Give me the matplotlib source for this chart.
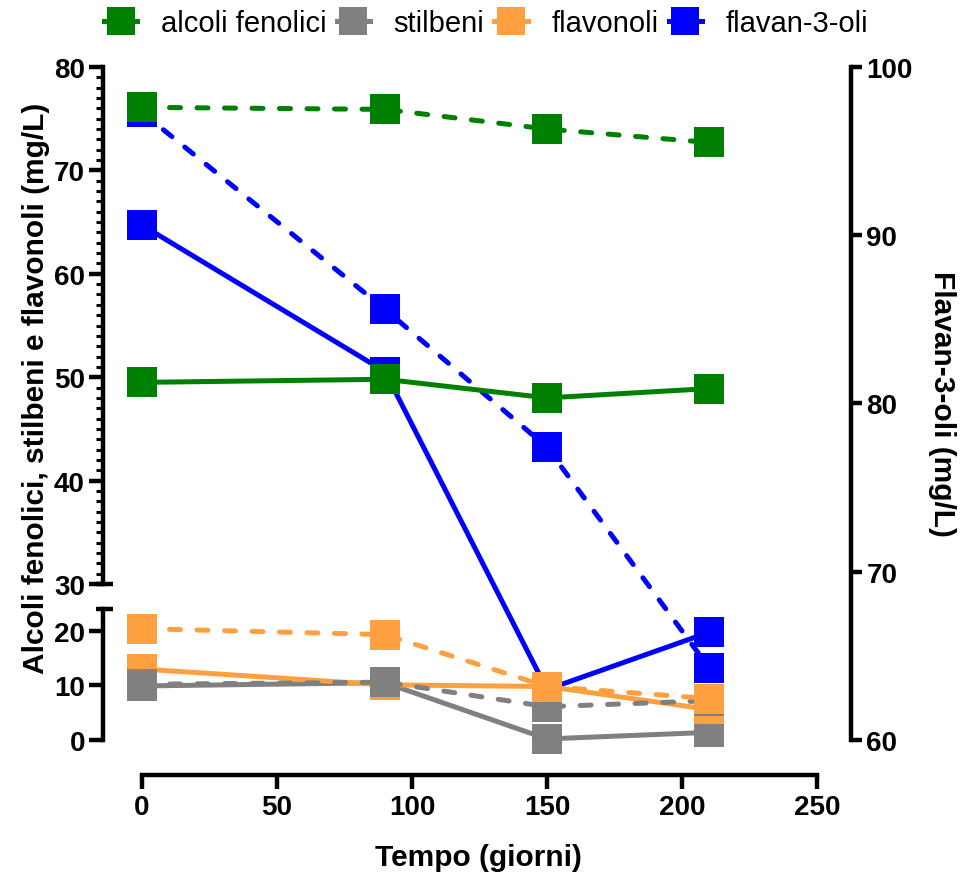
import matplotlib
matplotlib.use("Agg")
import matplotlib.pyplot as plt
from matplotlib.lines import Line2D
from matplotlib.ticker import MultipleLocator

plt.rcParams['font.family'] = ['Liberation Sans', 'DejaVu Sans']

# Dati (tempo in giorni)
giorni = [0, 90, 150, 210]

alcoli_sol = [49.5, 49.8, 48.0, 48.9]
alcoli_tr = [76.1, 75.9, 74.0, 72.7]
stilbeni_sol = [9.9, 10.5, 0.2, 1.4]
stilbeni_tr = [10.2, 10.6, 6.1, 7.2]
flavonoli_sol = [13.0, 10.1, 9.8, 5.6]
flavonoli_tr = [20.4, 19.3, 9.8, 7.6]
flavan_sol = [90.6, 81.9, 63.0, 66.4]
flavan_tr = [97.3, 85.6, 77.4, 64.3]

nomi = ['alcoli fenolici', 'stilbeni', 'flavonoli', 'flavan-3-oli']
colori = ['#008000', '#808080', '#FFA040', '#0000FF']

W, H = 964, 879
def fx(px):
    return px / W
def fy(py):
    return 1 - py / H

fig = plt.figure(figsize=(W / 100, H / 100), dpi=100)

x0, x1 = 103, 851
xlim = (-(142 - x0) / 2.7, (x1 - 142) / 2.7)

ax_r = fig.add_axes([fx(x0), fy(741), fx(x1) - fx(x0), fy(68) - fy(741)], zorder=0)
ax_top = fig.add_axes([fx(x0), fy(585), fx(x1) - fx(x0), fy(68) - fy(585)], zorder=1)
ax_bot = fig.add_axes([fx(x0), fy(741), fx(x1) - fx(x0), fy(610) - fy(741)], zorder=1)

lw = 3.6
ms = 21
tratt = (0, (2.2, 3.3))

def serie(ax, y, c, ls):
    ax.plot(giorni, y, color=c, lw=lw, ls=ls, marker='s', ms=ms, mec=c,
            mew=0, clip_on=False, solid_capstyle='butt', dash_capstyle='round')

# asse destro: flavan-3-oli
serie(ax_r, flavan_sol, colori[3], '-')
serie(ax_r, flavan_tr, colori[3], tratt)

# asse sinistro, segmento alto
serie(ax_top, alcoli_sol, colori[0], '-')
serie(ax_top, alcoli_tr, colori[0], tratt)

# asse sinistro, segmento basso
serie(ax_bot, stilbeni_sol, colori[1], '-')
serie(ax_bot, flavonoli_sol, colori[2], '-')
serie(ax_bot, stilbeni_tr, colori[1], tratt)
serie(ax_bot, flavonoli_tr, colori[2], tratt)

for ax in (ax_r, ax_top, ax_bot):
    ax.set_xlim(*xlim)
    ax.patch.set_alpha(0)
    for s in ax.spines.values():
        s.set_linewidth(3.2)

tick_font = dict(fontsize=20, fontweight='bold')

# asse destro
ax_r.set_ylim(60, 100)
for s in ('left', 'top', 'bottom'):
    ax_r.spines[s].set_visible(False)
ax_r.yaxis.tick_right()
ax_r.set_yticks([60, 70, 80, 90, 100])
ax_r.set_yticklabels([str(v) for v in [60, 70, 80, 90, 100]], **tick_font)
ax_r.tick_params(axis='y', length=8, width=3.2, pad=3)
ax_r.set_xticks([])

# segmento alto
ax_top.set_ylim(30, 80)
for s in ('right', 'top', 'bottom'):
    ax_top.spines[s].set_visible(False)
ax_top.set_xticks([])
ax_top.set_yticks([30, 40, 50, 60, 70, 80])
ax_top.set_yticklabels(['30', '40', '50', '60', '70', '80'], **tick_font)
ax_top.yaxis.set_minor_locator(MultipleLocator(1))
ax_top.tick_params(axis='y', which='major', length=10, width=3.2, pad=3)
ax_top.tick_params(axis='y', which='minor', length=5, width=2.2)

# segmento basso
ax_bot.set_ylim(0, 24)
for s in ('right', 'top'):
    ax_bot.spines[s].set_visible(False)
ax_bot.set_yticks([0, 10, 20])
ax_bot.set_yticklabels(['0', '10', '20'], **tick_font)
ax_bot.tick_params(axis='y', length=10, width=3.2, pad=3)
ax_bot.spines['bottom'].set_position(('outward', 25))
ax_bot.spines['bottom'].set_bounds(0, 250)
ax_bot.set_xticks([0, 50, 100, 150, 200, 250])
ax_bot.set_xticklabels(['0', '50', '100', '150', '200', '250'], **tick_font)
ax_bot.tick_params(axis='x', length=10, width=3.2, pad=4)

# segni di interruzione dell'asse
ax_top.plot([-0.009, 0.013], [0, 0], transform=ax_top.transAxes, color='black',
            lw=3.2, clip_on=False, solid_capstyle='butt')
ax_bot.plot([-0.009, 0.013], [1, 1], transform=ax_bot.transAxes, color='black',
            lw=3.2, clip_on=False, solid_capstyle='butt')

# etichette
fig.text(fx(478), fy(858), 'Tempo (giorni)', ha='center', va='center',
         fontsize=21.5, fontweight='bold')
fig.text(fx(36), fy(388), 'Alcoli fenolici, stilbeni e flavonoli (mg/L)',
         ha='center', va='center', rotation=90, fontsize=21.5, fontweight='bold')
fig.text(fx(942), fy(404), 'Flavan-3-oli (mg/L)', ha='center', va='center',
         rotation=270, fontsize=21.5, fontweight='bold')

# legenda
handles = [Line2D([], [], color=c, lw=lw, marker='s', ms=ms * 0.95, mew=0)
           for c in colori]
fig.legend(handles, nomi, loc='center', bbox_to_anchor=(fx(486), fy(24)),
           ncol=4, frameon=False, fontsize=21, handlelength=1.15,
           handletextpad=0.8, columnspacing=0.35, borderaxespad=0)

fig.savefig('out.png', dpi=100)
